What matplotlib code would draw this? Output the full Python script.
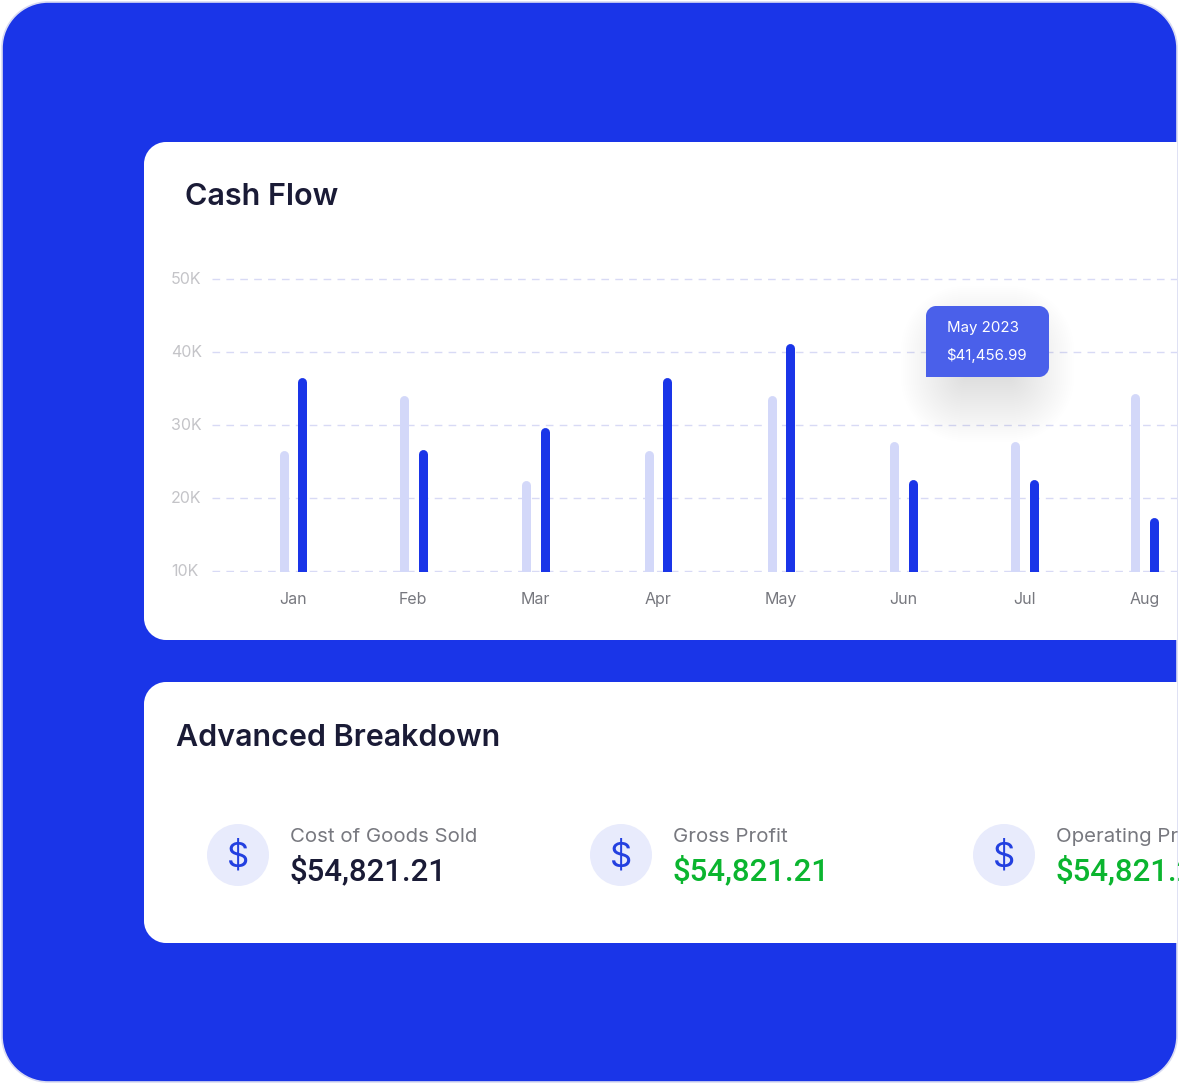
import matplotlib
matplotlib.use("Agg")
import matplotlib.pyplot as plt
from matplotlib.patches import Circle, PathPatch
from matplotlib.path import Path
from matplotlib.transforms import ScaledTranslation

months = ["Jan", "Feb", "Mar", "Apr", "May", "Jun", "Jul", "Aug"]
inflow = [26.5, 34.0, 22.4, 26.5, 34.0, 27.7, 27.7, 34.3]
outflow = [36.5, 26.6, 29.7, 36.5, 41.2, 22.5, 22.5, 17.3]
y_ticks = [10, 20, 30, 40, 50]
y_labels = ["10K", "20K", "30K", "40K", "50K"]

metric_names = ["Cost of Goods Sold", "Gross Profit", "Operating Profit"]
metric_values = ["$54,821.21", "$54,821.21", "$54,821.21"]

tooltip_lines = ["May 2023", "$41,456.99"]

# pixel layout of the card
month_x = [293, 413.25, 535.5, 657.75, 781, 903.5, 1024.25, 1144.5]
metric_x = [238, 621, 1004]
metric_colors = ["#1A1B36", "#0BB52F", "#0BB52F"]

W, H = 1179, 1085
BLUE = "#1A35E8"
LIGHT = "#D3D8F9"
DARK = "#1A1B36"
GRAY = "#77787F"
FONT = "Inter"


def rounded_path(x0, y0, x1, y1, tl, tr, br, bl):
    """Rectangle in pixel coordinates with its own radius per corner."""
    k = 0.45
    verts = [(x0 + tl, y0), (x1 - tr, y0)]
    codes = [Path.MOVETO, Path.LINETO]
    if tr:
        verts += [(x1 - tr * k, y0), (x1, y0 + tr * k), (x1, y0 + tr)]
        codes += [Path.CURVE4] * 3
    verts.append((x1, y1 - br))
    codes.append(Path.LINETO)
    if br:
        verts += [(x1, y1 - br * k), (x1 - br * k, y1), (x1 - br, y1)]
        codes += [Path.CURVE4] * 3
    verts.append((x0 + bl, y1))
    codes.append(Path.LINETO)
    if bl:
        verts += [(x0 + bl * k, y1), (x0, y1 - bl * k), (x0, y1 - bl)]
        codes += [Path.CURVE4] * 3
    verts.append((x0, y0 + tl))
    codes.append(Path.LINETO)
    if tl:
        verts += [(x0, y0 + tl * k), (x0 + tl * k, y0), (x0 + tl, y0)]
        codes += [Path.CURVE4] * 3
    return Path(verts, codes)


def pixel_axes(fig, zorder):
    ax = fig.add_axes([0, 0, 1, 1], zorder=zorder)
    ax.set_xlim(0, W)
    ax.set_ylim(H, 0)
    ax.axis("off")
    return ax


fig = plt.figure(figsize=(W / 100, H / 100), dpi=100, facecolor="white")
plt.rcParams["font.family"] = [FONT, "DejaVu Sans"]

# panel and the two white cards
bg = pixel_axes(fig, 0)
bg.add_patch(
    PathPatch(
        rounded_path(2, 2, 1177, 1082, 46, 46, 46, 46),
        fc=BLUE,
        ec="#D9DBF2",
        lw=1.2,
    )
)
card_top = PathPatch(rounded_path(144, 142, 1177, 640, 22, 0, 0, 22), fc="white", ec="none")
card_bottom = PathPatch(rounded_path(144, 682, 1177, 943, 22, 0, 0, 22), fc="white", ec="none")
bg.add_patch(card_top)
bg.add_patch(card_bottom)

bg.text(185, 205, "Cash Flow", fontsize=22, fontweight="semibold", color=DARK)
bg.text(175.5, 746, "Advanced Breakdown", fontsize=21.9, fontweight="semibold", color=DARK)

for cx, name, value, color in zip(metric_x, metric_names, metric_values, metric_colors):
    bg.add_patch(Circle((cx, 855), 31, fc="#E8EBFC", ec="none"))
    bg.text(cx, 857, "$", fontsize=25, color="#2340E0", ha="center", va="center")
    t1 = bg.text(cx + 52, 842, name, fontsize=14.7, color=GRAY)
    t2 = bg.text(
        cx + 51.5, 880, value, fontsize=22.4, fontweight="medium", color=color,
        family=["Roboto", "DejaVu Sans"],
    )
    t1.set_clip_path(card_bottom)
    t2.set_clip_path(card_bottom)

left, right, top, bottom = 212, 1177, 270, 572
ax = fig.add_axes(
    [left / W, 1 - bottom / H, (right - left) / W, (bottom - top) / H], zorder=1
)
ax.patch.set_alpha(0)
px_per_k = 7.3
ax.set_xlim(left, right)
ax.set_ylim(10 - 1 / px_per_k, 10 + (571 - top) / px_per_k)

# bars are thick round-capped strokes, the lower cap gets clipped by the axes
radius = 4.5 / px_per_k
for x, v_in, v_out in zip(month_x, inflow, outflow):
    for bx, val, col in ((x - 9.25, v_in, LIGHT), (x + 9.25, v_out, BLUE)):
        ax.vlines(bx, 9, val - radius, color=col, lw=6.48, capstyle="round", zorder=3)

ax.set_yticks(y_ticks, y_labels)
ax.set_xticks(month_x, months)
ax.grid(axis="y", color="#D8DAF5", lw=1, dashes=(5.5, 4.5), zorder=1)
ax.tick_params(axis="y", length=0, pad=29.5, labelsize=11.5, labelcolor="#C4C4C8")
ax.tick_params(axis="x", length=0, pad=14.7, labelsize=11.5, labelcolor=GRAY)
nudge = ScaledTranslation(0, 1 / 100, fig.dpi_scale_trans)
for lab in ax.get_yticklabels():
    lab.set_ha("left")
    lab.set_transform(lab.get_transform() + nudge)
for side in ax.spines.values():
    side.set_visible(False)

# tooltip with its soft shadow
over = pixel_axes(fig, 2)
for e in range(0, 66, 2):
    over.add_patch(
        PathPatch(
            rounded_path(965 - e, 350 - e, 1010 + e, 378 + e, e, e, e, e),
            fc="black",
            ec="none",
            alpha=0.0045,
        )
    )
over.add_patch(PathPatch(rounded_path(926, 306, 1049, 377, 10, 10, 10, 0), fc="#4A60EA", ec="none"))
over.text(947, 332, tooltip_lines[0], fontsize=10.8, color="white")
over.text(946.5, 360, tooltip_lines[1], fontsize=10.8, color="white")

fig.savefig("out.png", dpi=100)
